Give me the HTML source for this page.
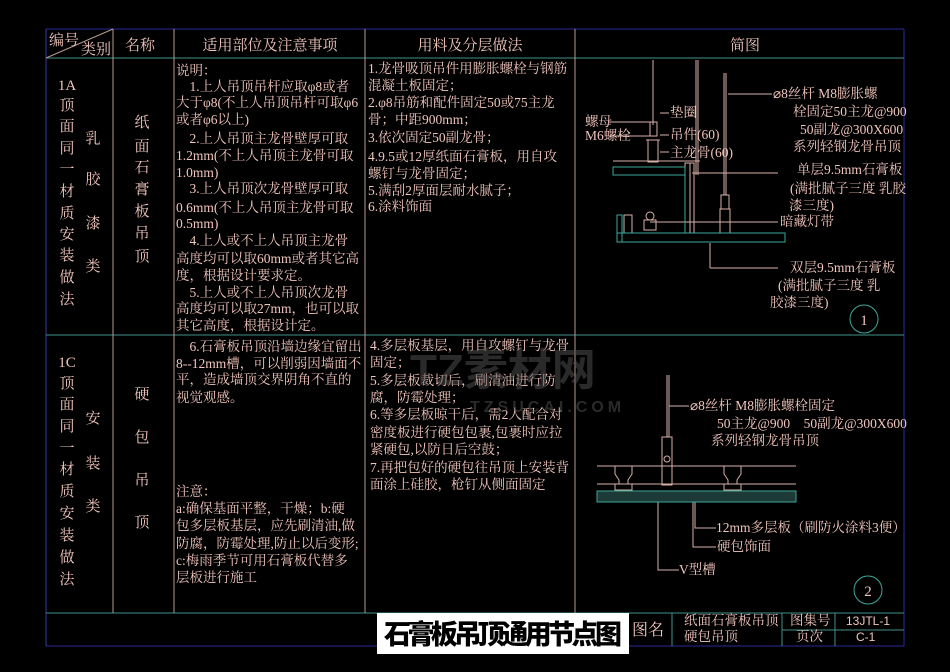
<!DOCTYPE html>
<html><head><meta charset="utf-8"><style>
html,body{margin:0;padding:0;background:#000;}
svg{display:block}
text{font-family:"Liberation Serif","Noto Serif CJK SC",serif;fill:#f2c6bd;font-size:13.5px;}
.h{font-size:15px;}
.v{font-size:15px;}
</style></head><body>
<svg width="950" height="672" viewBox="0 0 950 672" xmlns="http://www.w3.org/2000/svg">
<rect width="950" height="672" fill="#000"/>
<g stroke-width="1" fill="none">
<line x1="46" y1="29" x2="904" y2="29" stroke="#2a2a9a"/>
<line x1="904" y1="29" x2="904" y2="646" stroke="#2a2a9a"/>
<line x1="46" y1="29" x2="46" y2="646" stroke="#3a3aa8"/>
<line x1="46" y1="646" x2="904" y2="646" stroke="#2a2a9a"/>
<line x1="46" y1="58" x2="904" y2="58" stroke="#3f8f8a"/>
<line x1="46" y1="335" x2="904" y2="335" stroke="#3f8f8a"/>
<line x1="46" y1="613" x2="904" y2="613" stroke="#3f8f8a"/>
<line x1="46" y1="58" x2="113" y2="29" stroke="#b89890"/>
<line x1="113" y1="29" x2="113" y2="613" stroke="#b89890"/>
<line x1="174" y1="29" x2="174" y2="613" stroke="#b89890"/>
<line x1="365" y1="29" x2="365" y2="613" stroke="#b89890"/>
<line x1="575" y1="29" x2="575" y2="613" stroke="#b89890"/>
<line x1="672" y1="613" x2="672" y2="646" stroke="#3f8f8a"/>
<line x1="782" y1="613" x2="782" y2="646" stroke="#3f8f8a"/>
<line x1="835" y1="613" x2="835" y2="646" stroke="#3f8f8a"/>
<line x1="782" y1="630" x2="904" y2="630" stroke="#3f8f8a"/>
</g>
<text x="49" y="45" class="h">编号</text>
<text x="81" y="54" class="h">类别</text>
<text x="125" y="50" class="h">名称</text>
<text x="270" y="50" class="h" text-anchor="middle">适用部位及注意事项</text>
<text x="470" y="50" class="h" text-anchor="middle">用料及分层做法</text>
<text x="745" y="50" class="h" text-anchor="middle">简图</text>
<g>
<text x="67" y="90" class="v" text-anchor="middle">1A</text>
<text x="67" y="110" class="v" text-anchor="middle">顶</text><text x="67" y="131" class="v" text-anchor="middle">面</text><text x="67" y="153" class="v" text-anchor="middle">同</text><text x="67" y="174" class="v" text-anchor="middle">一</text><text x="67" y="196" class="v" text-anchor="middle">材</text><text x="67" y="218" class="v" text-anchor="middle">质</text><text x="67" y="239" class="v" text-anchor="middle">安</text><text x="67" y="260" class="v" text-anchor="middle">装</text><text x="67" y="282" class="v" text-anchor="middle">做</text><text x="67" y="304" class="v" text-anchor="middle">法</text>
<text x="93" y="143" class="v" text-anchor="middle">乳</text><text x="93" y="184" class="v" text-anchor="middle">胶</text><text x="93" y="228" class="v" text-anchor="middle">漆</text><text x="93" y="271" class="v" text-anchor="middle">类</text>
<text x="142" y="127" class="v" text-anchor="middle">纸</text><text x="142" y="151" class="v" text-anchor="middle">面</text><text x="142" y="172" class="v" text-anchor="middle">石</text><text x="142" y="194" class="v" text-anchor="middle">膏</text><text x="142" y="216" class="v" text-anchor="middle">板</text><text x="142" y="238" class="v" text-anchor="middle">吊</text><text x="142" y="261" class="v" text-anchor="middle">顶</text>
<text x="67" y="367" class="v" text-anchor="middle">1C</text>
<text x="67" y="388" class="v" text-anchor="middle">顶</text><text x="67" y="409" class="v" text-anchor="middle">面</text><text x="67" y="431" class="v" text-anchor="middle">同</text><text x="67" y="453" class="v" text-anchor="middle">一</text><text x="67" y="474" class="v" text-anchor="middle">材</text><text x="67" y="496" class="v" text-anchor="middle">质</text><text x="67" y="518" class="v" text-anchor="middle">安</text><text x="67" y="540" class="v" text-anchor="middle">装</text><text x="67" y="562" class="v" text-anchor="middle">做</text><text x="67" y="584" class="v" text-anchor="middle">法</text>
<text x="93" y="423" class="v" text-anchor="middle">安</text><text x="93" y="468" class="v" text-anchor="middle">装</text><text x="93" y="511" class="v" text-anchor="middle">类</text>
<text x="142" y="399" class="v" text-anchor="middle">硬</text><text x="142" y="442" class="v" text-anchor="middle">包</text><text x="142" y="485" class="v" text-anchor="middle">吊</text><text x="142" y="527" class="v" text-anchor="middle">顶</text>
</g>
<text x="176" y="75">说明：</text>
<text x="176" y="91">　1.上人吊顶吊杆应取φ8或者</text>
<text x="176" y="107">大于φ8(不上人吊顶吊杆可取φ6</text>
<text x="176" y="124">或者φ6以上)</text>
<text x="176" y="143">　2.上人吊顶主龙骨壁厚可取</text>
<text x="176" y="160">1.2mm(不上人吊顶主龙骨可取</text>
<text x="176" y="177">1.0mm)</text>
<text x="176" y="193">　3.上人吊顶次龙骨壁厚可取</text>
<text x="176" y="212">0.6mm(不上人吊顶主龙骨可取</text>
<text x="176" y="228">0.5mm)</text>
<text x="176" y="245">　4.上人或不上人吊顶主龙骨</text>
<text x="176" y="263">高度均可以取60mm或者其它高</text>
<text x="176" y="280">度，根据设计要求定。</text>
<text x="176" y="297">　5.上人或不上人吊顶次龙骨</text>
<text x="176" y="313">高度均可以取27mm，也可以取</text>
<text x="176" y="330">其它高度，根据设计定。</text>
<text x="176" y="351">　6.石膏板吊顶沿墙边缘宜留出</text>
<text x="176" y="368">8--12mm槽，可以削弱因墙面不</text>
<text x="176" y="384">平，造成墙顶交界阴角不直的</text>
<text x="176" y="402">视觉观感。</text>
<text x="176" y="496">注意：</text>
<text x="176" y="513">a:确保基面平整，干燥；b:硬</text>
<text x="176" y="530">包多层板基层，应先刷清油,做</text>
<text x="176" y="548">防腐，防霉处理,防止以后变形;</text>
<text x="176" y="565">c:梅雨季节可用石膏板代替多</text>
<text x="176" y="582">层板进行施工</text>
<text x="368" y="73">1.龙骨吸顶吊件用膨胀螺栓与钢筋</text>
<text x="368" y="90">混凝土板固定；</text>
<text x="368" y="107">2.φ8吊筋和配件固定50或75主龙</text>
<text x="368" y="124">骨；中距900mm；</text>
<text x="368" y="142">3.依次固定50副龙骨；</text>
<text x="368" y="161">4.9.5或12厚纸面石膏板，用自攻</text>
<text x="368" y="178">螺钉与龙骨固定；</text>
<text x="368" y="195">5.满刮2厚面层耐水腻子；</text>
<text x="368" y="211">6.涂料饰面</text>
<text x="370" y="350">4.多层板基层，用自攻螺钉与龙骨</text>
<text x="370" y="367">固定；</text>
<text x="370" y="385">5.多层板裁切后，刷清油进行防</text>
<text x="370" y="402">腐，防霉处理；</text>
<text x="370" y="419">6.等多层板晾干后，需2人配合对</text>
<text x="370" y="437">密度板进行硬包包裹,包裹时应拉</text>
<text x="370" y="454">紧硬包,以防日后空鼓；</text>
<text x="370" y="472">7.再把包好的硬包往吊顶上安装背</text>
<text x="370" y="489">面涂上硅胶，枪钉从侧面固定</text>
<text x="410" y="385" style="font-family:'Liberation Sans','Noto Sans CJK SC',sans-serif;font-size:44px;font-weight:bold;fill:#555;opacity:.5">TZ素材网</text>
<text x="470" y="412" style="font-family:'Liberation Sans',sans-serif;font-size:16px;font-weight:bold;fill:#555;opacity:.5;letter-spacing:4px">TZSUCAI.COM</text>
<g fill="none" stroke="#d8b0a8" stroke-width="1">
<line x1="653" y1="60" x2="653" y2="125"/>
<line x1="696" y1="60" x2="696" y2="175"/>
<line x1="698" y1="60" x2="698" y2="175"/>
<line x1="724" y1="73" x2="724" y2="195"/>
<line x1="726" y1="73" x2="726" y2="195"/>
<rect x="650" y="122" width="7" height="14"/>
<rect x="648" y="140" width="10" height="22"/>
<line x1="646" y1="140" x2="660" y2="140"/>
<rect x="721" y="195" width="8" height="14"/>
<rect x="720" y="209" width="10" height="24"/>
<line x1="613" y1="161" x2="700" y2="161"/>
<rect x="685" y="163" width="5" height="70"/>
<rect x="690" y="163" width="4" height="70"/>
<line x1="609" y1="122" x2="650" y2="122"/>
<line x1="609" y1="136" x2="650" y2="136"/>
<line x1="660" y1="113" x2="669" y2="113"/>
<line x1="660" y1="135" x2="669" y2="135"/>
<line x1="660" y1="152" x2="669" y2="152"/>
<line x1="728" y1="94" x2="772" y2="94"/>
<line x1="692" y1="173" x2="778" y2="173"/>
<line x1="650" y1="222" x2="778" y2="222"/>
<line x1="710" y1="243" x2="710" y2="268"/>
<line x1="710" y1="268" x2="778" y2="268"/>
<rect x="644" y="220" width="12" height="10"/>
<circle cx="650" cy="216" r="4"/>
<rect x="624" y="215" width="8" height="18"/>
</g>
<g fill="none" stroke="#3aa79a" stroke-width="1">
<rect x="613" y="167" width="72" height="8"/>
<rect x="617" y="215" width="5" height="27"/>
<rect x="617" y="233" width="168" height="9"/>
<line x1="685" y1="167" x2="685" y2="233"/>
</g>
<text x="585" y="126">螺母</text>
<text x="585" y="140">M6螺栓</text>
<text x="670" y="117">垫圈</text>
<text x="670" y="139">吊件(60)</text>
<text x="670" y="157">主龙骨(60)</text>
<text x="773" y="98">⌀8丝杆 M8膨胀螺</text>
<text x="793" y="116">栓固定50主龙@900</text>
<text x="800" y="134">50副龙@300X600</text>
<text x="793" y="151">系列轻钢龙骨吊顶</text>
<text x="797" y="174">单层9.5mm石膏板</text>
<text x="790" y="193">(满批腻子三度 乳胶</text>
<text x="789" y="210">漆三度)</text>
<text x="780" y="226">暗藏灯带</text>
<text x="790" y="272">双层9.5mm石膏板</text>
<text x="778" y="290">(满批腻子三度 乳</text>
<text x="770" y="307">胶漆三度)</text>
<circle cx="864" cy="319" r="14" fill="none" stroke="#3aa79a"/>
<text x="864" y="325" text-anchor="middle" style="font-size:15px">1</text>
<g fill="none" stroke="#d8b0a8" stroke-width="1">
<line x1="667" y1="375" x2="667" y2="437"/>
<line x1="669" y1="375" x2="669" y2="437"/>
<rect x="662" y="437" width="10" height="48"/>
<circle cx="667" cy="459" r="3"/>
<line x1="669" y1="406" x2="689" y2="406"/>
<line x1="597" y1="466" x2="796" y2="466"/>
<line x1="597" y1="484" x2="796" y2="484"/>
<path d="M615 466 v8 l4 6 v4 h-4 v6 h17 v-6 h-4 v-4 l4 -6 v-8"/>
<path d="M724 466 v8 l4 6 v4 h-4 v6 h17 v-6 h-4 v-4 l4 -6 v-8"/>
<path d="M695 496 V528 H716"/>
<path d="M693 500 V547 H716"/>
<path d="M658 500 V570 H679"/>
</g>
<rect x="597" y="491" width="199" height="11" fill="#1d3a36" stroke="#3aa79a"/>
<text x="690" y="410">⌀8丝杆 M8膨胀螺栓固定</text>
<text x="717" y="428">50主龙@900　50副龙@300X600</text>
<text x="711" y="445">系列轻钢龙骨吊顶</text>
<text x="716" y="532">12mm多层板（刷防火涂料3便）</text>
<text x="717" y="551">硬包饰面</text>
<text x="679" y="574">V型槽</text>
<circle cx="868" cy="590" r="14" fill="none" stroke="#3aa79a"/>
<text x="868" y="596" text-anchor="middle" style="font-size:15px">2</text>
<rect x="377" y="613" width="252" height="41" fill="#fff"/>
<text x="503" y="644" text-anchor="middle" textLength="238" style="font-family:'Noto Sans CJK SC',sans-serif;font-weight:900;font-size:27px;fill:#000">石膏板吊顶通用节点图</text>
<text x="632" y="635" style="font-size:16px">图名</text>
<text x="684" y="625">纸面石膏板吊顶</text>
<text x="684" y="641">硬包吊顶</text>
<text x="790" y="625">图集号</text>
<text x="796" y="641">页次</text>
<text x="846" y="625" style="font-family:'Liberation Sans',sans-serif;font-size:12px">13JTL-1</text>
<text x="856" y="641" style="font-family:'Liberation Sans',sans-serif;font-size:12px">C-1</text>
</svg>
</body></html>
